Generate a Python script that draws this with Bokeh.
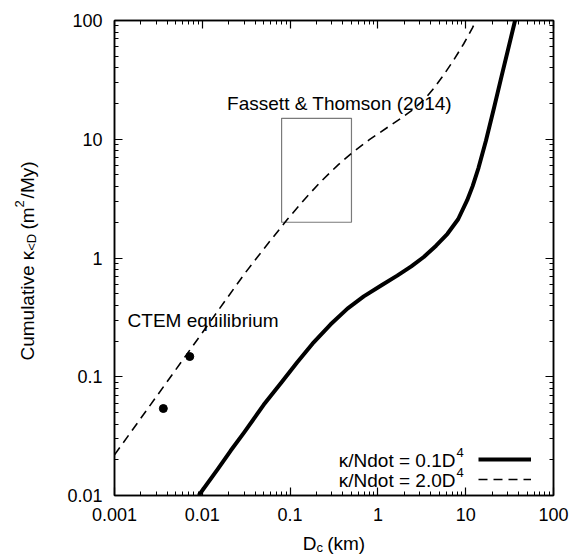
from bokeh.plotting import figure
from bokeh.models import (Range1d, LogAxis, Label, Legend, LegendItem,
                          CustomJSTickFormatter, FixedTicker)
from bokeh.embed import file_html
from bokeh.resources import INLINE

# ---------------- data ----------------
solid_d = [0.0091, 0.015, 0.021, 0.03, 0.05, 0.08, 0.12, 0.18, 0.288, 0.45,
           0.69, 1.1, 1.66, 2.4, 3.33, 4.6, 6.2, 8.2, 10.4, 12.0, 14.0, 17.0,
           21.0, 26.0, 36.5]
solid_k = [0.01, 0.0167, 0.0238, 0.034, 0.058, 0.09, 0.132, 0.19, 0.275, 0.375,
           0.475, 0.59, 0.71, 0.85, 1.02, 1.27, 1.6, 2.12, 3.07, 4.03, 5.75, 9.7,
           18.3, 35.5, 100.0]
dash_d = [0.001, 0.003, 0.01, 0.03, 0.05, 0.0927, 0.15, 0.222, 0.35, 0.51,
          0.8, 1.28, 1.9, 2.56, 3.4, 4.33, 5.6, 7.3, 9.5, 11.9, 13.1]
dash_k = [0.022, 0.068, 0.235, 0.73, 1.19, 2.11, 3.19, 4.37, 6.06, 7.71,
          9.92, 12.55, 15.3, 18.0, 21.8, 26.8, 34.7, 46.4, 63.7, 86.4, 100.0]
ctem_d = [0.0036, 0.0072]
ctem_k = [0.054, 0.148]
box_d = [0.08, 0.5]
box_k = [2.0, 15.0]
x_ticks = [0.001, 0.01, 0.1, 1, 10, 100]
x_tick_labels = ["0.001", "0.01", "0.1", "1", "10", "100"]
y_ticks = [0.01, 0.1, 1, 10, 100]
y_tick_labels = ["0.01", "0.1", "1", "10", "100"]
legend_labels = ["κ/Ndot = 0.1D", "κ/Ndot = 2.0D"]
legend_sup = "4"
fassett_text = "Fassett & Thomson (2014)"
fassett_pos = (0.366, 17.0)
ctem_text = "CTEM equilibrium"
ctem_pos = (0.00141, 0.255)

FONT = "Liberation Sans"
BIG = 19
SMALL = 13
BASE_FIX = 8   # lift applied to alphabetic-baseline labels
NB = "\u00a0"  # non-collapsing space
TH = "\u2009"  # thin space

# Arial / Liberation Sans advance widths (per 1000 em)
W = {' ': 278, NB: 278, TH: 200, '(': 333, ')': 333, '/': 278, '<': 584,
     '=': 584, '.': 278, '&': 667, 'C': 722, 'D': 722, 'E': 667, 'F': 611,
     'M': 833, 'N': 722, 'T': 611, 'a': 556, 'b': 556, 'c': 500, 'd': 556,
     'e': 556, 'h': 556, 'i': 222, 'k': 500, 'l': 222, 'm': 833, 'n': 556,
     'o': 556, 'q': 556, 'r': 333, 's': 500, 't': 278, 'u': 556, 'v': 500,
     'y': 500, 'κ': 500}


def tw(s, size):
    return sum(W.get(ch, 556) for ch in s) / 1000.0 * size


p = figure(x_axis_type="log", y_axis_type="log",
           x_range=Range1d(0.001, 100), y_range=Range1d(0.01, 100),
           frame_width=439, frame_height=475,
           min_border_left=114, min_border_top=20, min_border_right=19,
           min_border_bottom=59,
           output_backend="svg", toolbar_location=None)
p.grid.visible = False
p.outline_line_color = "black"
p.outline_line_width = 1.5
p.background_fill_color = "white"
p.border_fill_color = "white"

x_minor = [m * 10.0 ** e for e in range(-3, 2) for m in range(2, 10)]
y_minor = [m * 10.0 ** e for e in range(-2, 2) for m in range(2, 10)]

fmt_code = """
for (let i = 0; i < vals.length; i++) {
  if (Math.abs(Math.log10(tick) - Math.log10(vals[i])) < 1e-6) return labs[i];
}
return '';
"""
xfmt = CustomJSTickFormatter(args=dict(vals=x_ticks, labs=x_tick_labels), code=fmt_code)
yfmt = CustomJSTickFormatter(args=dict(vals=y_ticks, labs=y_tick_labels), code=fmt_code)


def style_axis(ax, show_labels):
    ax.axis_line_color = "black"
    ax.axis_line_width = 1.5
    ax.major_tick_line_color = "black"
    ax.minor_tick_line_color = "black"
    ax.major_tick_line_width = 1.2
    ax.minor_tick_line_width = 1.0
    ax.major_tick_in = 8
    ax.major_tick_out = 0
    ax.minor_tick_in = 4
    ax.minor_tick_out = 0
    ax.axis_label = None
    if show_labels:
        ax.major_label_text_font = FONT
        ax.major_label_text_font_size = "18px"
        ax.major_label_text_color = "black"
        ax.major_label_standoff = 12
    else:
        ax.major_label_text_font_size = "0px"
        ax.major_label_standoff = 0
        ax.major_label_text_alpha = 0


p.xaxis[0].ticker = FixedTicker(ticks=x_ticks, minor_ticks=x_minor)
p.yaxis[0].ticker = FixedTicker(ticks=y_ticks, minor_ticks=y_minor)
p.xaxis[0].formatter = xfmt
p.yaxis[0].formatter = yfmt
style_axis(p.xaxis[0], True)
style_axis(p.yaxis[0], True)

top = LogAxis(ticker=FixedTicker(ticks=x_ticks, minor_ticks=x_minor))
right = LogAxis(ticker=FixedTicker(ticks=y_ticks, minor_ticks=y_minor))
style_axis(top, False)
style_axis(right, False)
p.add_layout(top, "above")
p.add_layout(right, "right")

# ---------------- glyphs ----------------
p.quad(left=box_d[0], right=box_d[1], bottom=box_k[0], top=box_k[1],
       fill_alpha=0, line_color="#7a7a7a", line_width=1.2)
r_solid = p.line(solid_d, solid_k, line_color="black", line_width=4,
                 line_join="round")
r_dash = p.line(dash_d, dash_k, line_color="black", line_width=1.6,
                line_dash="9 6")
p.scatter(ctem_d, ctem_k, size=8, color="black")


def lab(place, **kw):
    d = dict(text_font=FONT, text_color="black", text_baseline="alphabetic")
    d.update(kw)
    p.add_layout(Label(**d), place)


# ---------------- annotations inside the frame ----------------
lab("center", x=fassett_pos[0], y=fassett_pos[1], y_offset=BASE_FIX, text=fassett_text,
    text_align="center", text_font_size=f"{BIG}px")
lab("center", x=ctem_pos[0], y=ctem_pos[1], y_offset=BASE_FIX, text=ctem_text,
    text_align="left", text_font_size=f"{BIG}px")

for i, t in enumerate(legend_labels):
    yoff = 27 - 20 * i + BASE_FIX
    lab("center", x=100, y=0.01, x_offset=-98, y_offset=yoff, text=t,
        text_align="right", text_font_size=f"{BIG}px")
    lab("center", x=100, y=0.01, x_offset=-97, y_offset=yoff + 8, text=legend_sup,
        text_align="left", text_font_size=f"{SMALL}px")

legend = Legend(items=[LegendItem(label=" ", renderers=[r_solid]),
                       LegendItem(label=" ", renderers=[r_dash])],
                location=(364, 6), glyph_width=53, glyph_height=20,
                label_width=0, label_height=20, label_standoff=0,
                label_text_font_size="1px", spacing=0, padding=0, margin=0,
                border_line_alpha=0, background_fill_alpha=0)
p.add_layout(legend, "center")

# ---------------- axis titles (side panels are not clipped) ----------------
# x title: D_c (km)
x_main = "D" + NB + NB + "(km)"
x_total = tw(x_main, BIG)
x0 = -x_total / 2.0
lab("below", x=10 ** -0.5, y=0.01, x_offset=x0, y_offset=-56 + BASE_FIX,
    text=x_main, text_align="left", text_font_size=f"{BIG}px")
lab("right", x=10 ** -0.5, y=0.01, x_offset=x0 + tw("D", BIG), y_offset=-60 + BASE_FIX,
    text="c", text_align="left", text_font_size=f"{SMALL}px")

# y title: Cumulative κ_<D (m^2/My), rotated
y_a = "Cumulative κ"
y_gap1 = NB * 4
y_b = "(m"
y_gap2 = NB + TH
y_c = "/My)"
y_main = y_a + y_gap1 + y_b + y_gap2 + y_c
y_total = tw(y_main, BIG)
y0 = -y_total / 2.0 - 3
XB = -79 - BASE_FIX
lab("left", x=0.001, y=1.0, x_offset=XB, y_offset=y0, text=y_main,
    angle=1.5707963267948966, text_align="left", text_font_size=f"{BIG}px")
lab("left", x=0.001, y=1.0, x_offset=XB + 4, y_offset=y0 + tw(y_a, BIG), text="<D",
    angle=1.5707963267948966, text_align="left", text_font_size=f"{SMALL}px")
lab("left", x=0.001, y=1.0, x_offset=XB - 8,
    y_offset=y0 + tw(y_a + y_gap1 + y_b, BIG), text="2",
    angle=1.5707963267948966, text_align="left", text_font_size=f"{SMALL}px")

open("out.html", "w").write(file_html(p, INLINE))
